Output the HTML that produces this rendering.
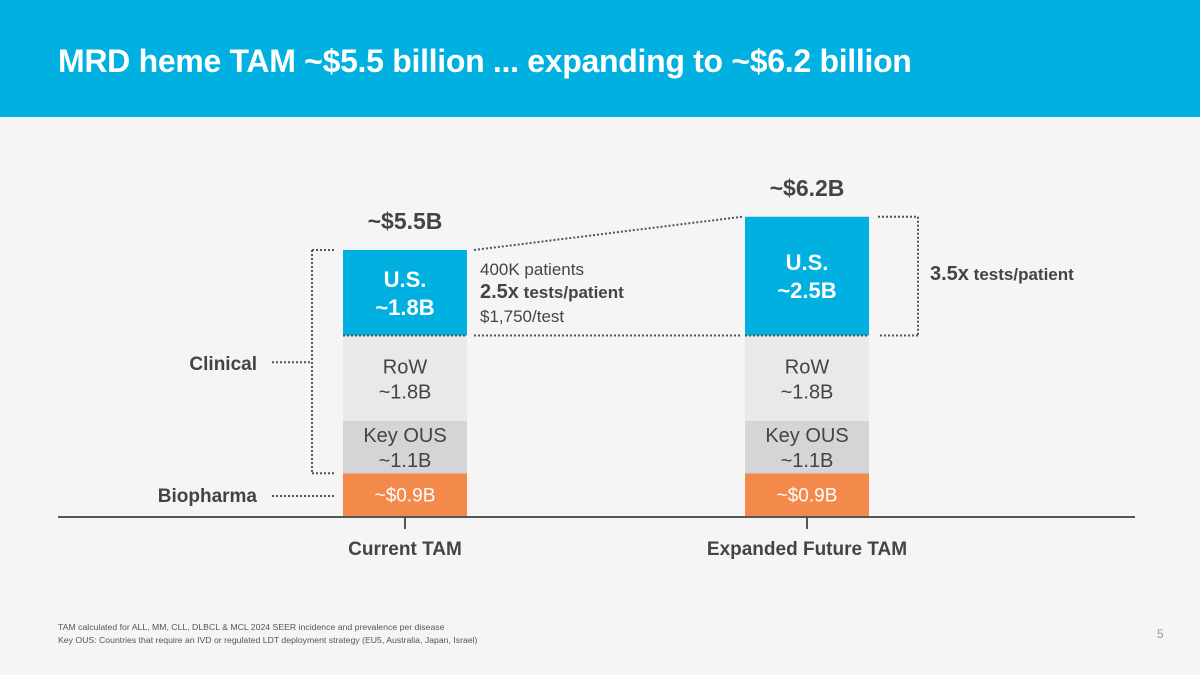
<!DOCTYPE html>
<html><head><meta charset="utf-8"><style>
body{margin:0;width:1200px;height:675px;background:#f5f5f5;font-family:"Liberation Sans",sans-serif;overflow:hidden}
#hdr{position:absolute;left:0;top:0;width:1200px;height:117px;background:#00b0e0}
#hdr h1{position:absolute;left:58px;top:43px;margin:0;font-size:32px;font-weight:bold;color:#fff;letter-spacing:-0.3px}
svg{position:absolute;left:0;top:0}
.fn{position:absolute;left:58px;font-size:8.7px;color:#555}
</style></head><body>
<div id="hdr"><h1>MRD heme TAM ~$5.5 billion ... expanding to ~$6.2 billion</h1></div>
<svg id="chart" width="1200" height="675"></svg>
<div class="fn" style="top:622px">TAM calculated for ALL, MM, CLL, DLBCL &amp; MCL 2024 SEER incidence and prevalence per disease</div>
<div class="fn" style="top:635px">Key OUS: Countries that require an IVD or regulated LDT deployment strategy (EU5, Australia, Japan, Israel)</div>
<div class="fn" style="left:1157px;top:627px;font-size:12px;color:#999">5</div>
<script>
const categories=["Current TAM","Expanded Future TAM"];
const totals=["~$5.5B","~$6.2B"];
const segNames=["Biopharma","Key OUS","RoW","U.S."];
const biopharma=[0.9,0.9];
const keyOus=[1.1,1.1];
const row=[1.8,1.8];
const us=[1.8,2.5];
const NS="http://www.w3.org/2000/svg";
const svg=document.getElementById('chart');
const base=516, scale=47.5, barW=124;
const barX=i=>343+i*402;
const y=v=>base-v*scale;
function el(t,a,txt){const e=document.createElementNS(NS,t);for(const k in a)e.setAttribute(k,a[k]);if(txt!==undefined)e.textContent=txt;svg.appendChild(e);return e;}
function text(x,yy,s,size,w,fill,anchor){return el('text',{x:x,y:yy,'font-size':size,'font-weight':w,fill:fill,'text-anchor':anchor||'middle','font-family':'Liberation Sans, sans-serif'},s);}
function dots(x1,y1,x2,y2){return el('line',{x1:x1,y1:y1,x2:x2,y2:y2,stroke:'#555','stroke-width':2,'stroke-dasharray':'2 2'});}
const series=[biopharma,keyOus,row,us];
const colors=['#f3894a','#d3d5d6','#e9e9e9','#00b0e0'];
const tops=[];
categories.forEach((c,i)=>{
  let cum=0;const x=barX(i),cx=x+barW/2;const b=[];
  series.forEach((s,j)=>{
    const y0=y(cum),y1=y(cum+s[i]);b.push([y0,y1]);
    const r=el('rect',{x:x,y:y1,width:barW,height:y0-y1,fill:colors[j]});
    
    
    const m=(y0+y1)/2;
    if(j===0)text(cx,m+7,'~$'+s[i].toFixed(1)+'B',19,'normal','#fff');
    else if(j===3){text(cx,m-6,'U.S.',22,'bold','#fff');text(cx,m+22,'~'+s[i].toFixed(1)+'B',22,'bold','#fff');dots(x,y0,x+barW,y0);}
    else {text(cx,m-5,segNames[j],20,'normal','#444');text(cx,m+20,'~'+s[i].toFixed(1)+'B',20,'normal','#444');}
    cum+=s[i];
  });
  tops.push(b);
  text(cx,y(cum)-21,totals[i],23,'bold','#444');
  el('line',{x1:cx,y1:base,x2:cx,y2:base+13,stroke:'#555','stroke-width':2});
  text(cx,555,c,19,'bold','#444');
});
el('line',{x1:58,y1:base+1,x2:1135,y2:base+1,stroke:'#555','stroke-width':2});
const L=tops[0];
dots(334,L[3][1],312,L[3][1]);dots(312,L[3][1],312,L[0][1]);dots(312,L[0][1],334,L[0][1]);
dots(272,(L[2][0]+L[2][1])/2-16,312,(L[2][0]+L[2][1])/2-16);
text(257,370,'Clinical',19,'bold','#444','end');
dots(272,496,334,496);
text(257,502,'Biopharma',19,'bold','#444','end');
const R=tops[1];
dots(474,L[3][1],742,R[3][1]);dots(474,L[3][0],742,R[3][0]);
dots(878,R[3][1],918,R[3][1]);dots(918,R[3][1],918,R[3][0]);dots(918,R[3][0],878,R[3][0]);
text(480,275,'400K patients',17,'normal','#444','start');
const t=text(480,298,'',17,'bold','#444','start');t.innerHTML='<tspan font-size="20">2.5x</tspan> tests/patient';
text(480,322,'$1,750/test',17,'normal','#444','start');
const t2=text(930,280,'',17,'bold','#444','start');t2.innerHTML='<tspan font-size="20">3.5x</tspan> tests/patient';
</script>
</body></html>
